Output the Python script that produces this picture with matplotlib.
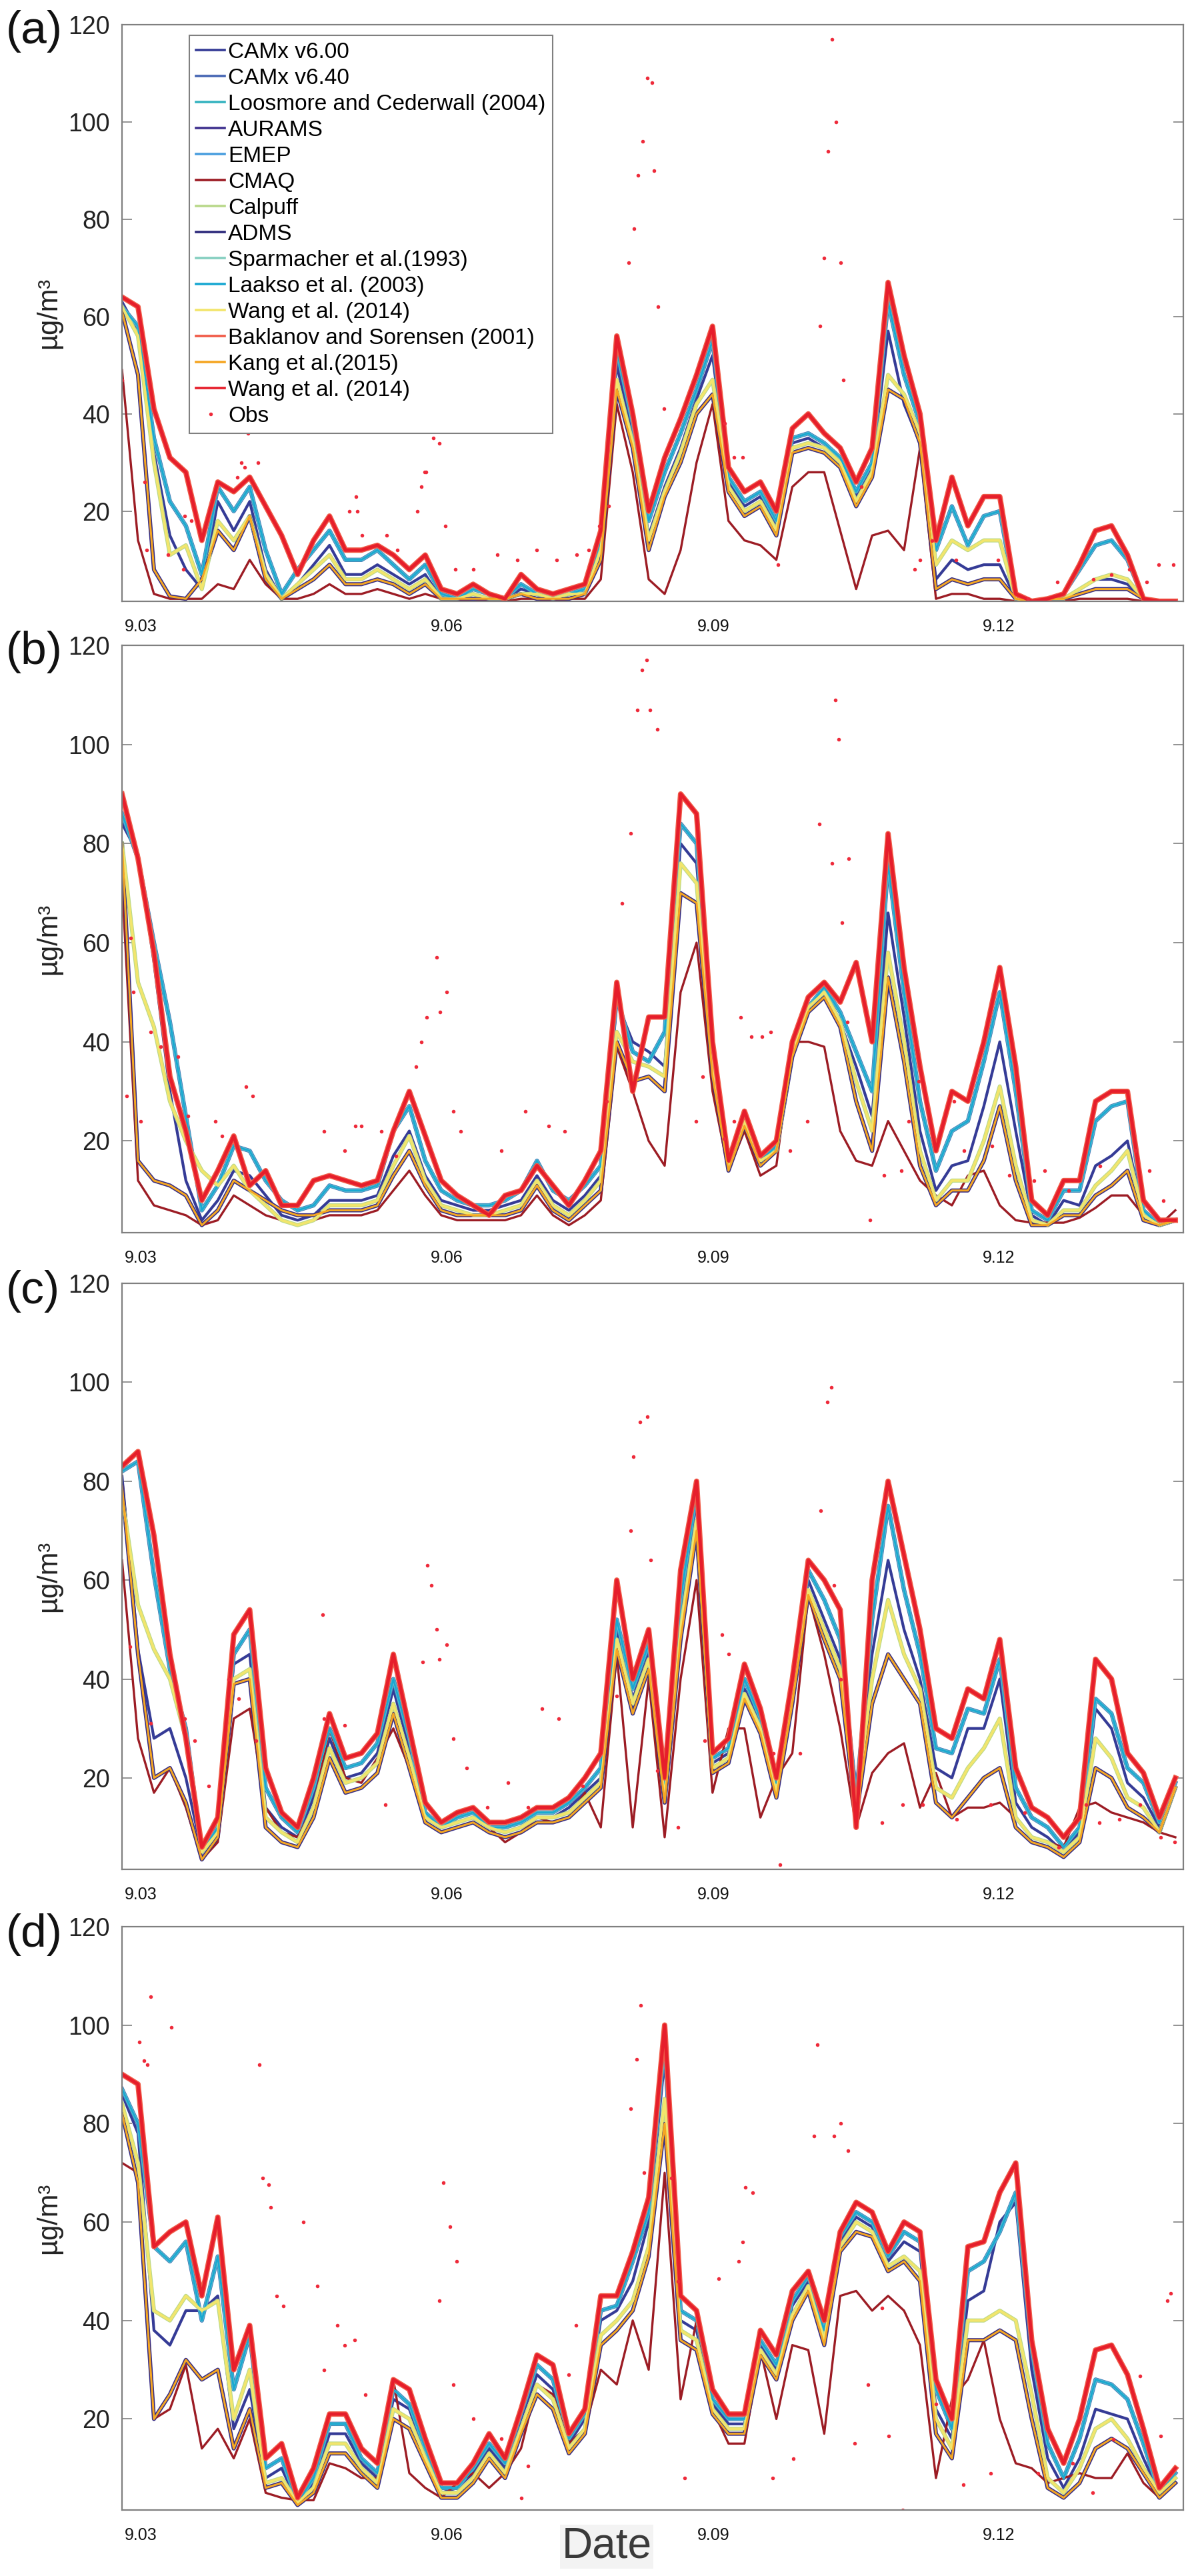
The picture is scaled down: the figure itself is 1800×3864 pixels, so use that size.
import matplotlib
matplotlib.use("Agg")
import matplotlib.pyplot as plt

plt.rcParams['font.family'] = ['Liberation Sans', 'DejaVu Sans']

# hourly index (every 4 h) from the start of 9.03
hours = list(range(0, 265, 4))

tick_pos = [4.7, 81.4, 148.2, 219.7]
tick_labels = ['9.03', '9.06', '9.09', '9.12']

model_names = ["CAMx v6.00", "CAMx v6.40", "Loosmore and Cederwall (2004)", "AURAMS", "EMEP",
               "CMAQ", "Calpuff", "ADMS", "Sparmacher et al.(1993)", "Laakso et al. (2003)",
               "Wang et al. (2014)", "Baklanov and Sorensen (2001)", "Kang et al.(2015)",
               "Wang et al. (2014)"]
# which read curve of a panel each model follows
model_curve = ['blue', 'cyan', 'cyan', 'low', 'cyan', 'cmaq', 'yellow', 'low', 'cyan', 'cyan',
               'yellow', 'top', 'low', 'top']

# ---------------- panel (a) ----------------
a_top = [64, 62, 41, 31, 28, 14, 26, 24, 27, 21, 15, 7, 14, 19, 12, 12, 13, 11, 8, 11, 4, 3, 5, 3, 2, 7, 4, 3, 4, 5,
         16, 56, 40, 20, 31, 39, 48, 58, 29, 24, 26, 20, 37, 40, 36, 33, 26, 33, 67, 52, 40, 14, 27, 17, 23, 23,
         3, 1.5, 2, 3, 9, 16, 17, 11, 2, 1.5, 1.5]
a_cyan = [62, 58, 35, 22, 17, 7, 25, 20, 25, 12, 3, 8, 12, 16, 10, 10, 12, 9, 6, 9, 3, 2, 4, 3, 2, 5, 3, 2, 3, 4,
          14, 53, 38, 18, 28, 36, 45, 55, 27, 22, 24, 18, 35, 36, 34, 31, 24, 30, 63, 48, 38, 12, 21, 13, 19, 20,
          2, 1.5, 2, 3, 8, 13, 14, 10, 2, 1.5, 1.5]
a_blue = [63, 57, 32, 15, 8, 4, 22, 16, 22, 8, 2, 5, 9, 13, 7, 7, 9, 7, 5, 7, 2, 2, 3, 2, 2, 4, 3, 2, 3, 4,
          13, 50, 36, 15, 25, 33, 43, 52, 26, 21, 23, 17, 34, 35, 33, 30, 23, 29, 57, 42, 34, 6, 10, 8, 9, 9,
          2, 1.5, 2, 2, 4, 6, 6, 5, 2, 1.5, 1.5]
a_yellow = [62, 56, 30, 11, 13, 4, 18, 14, 19, 7, 2, 5, 8, 11, 6, 6, 8, 6, 4, 6, 2, 2, 3, 2, 2, 3, 3, 2, 3, 3,
            12, 47, 34, 14, 24, 32, 42, 47, 25, 20, 22, 16, 33, 34, 33, 30, 22, 28, 48, 44, 36, 9, 14, 12, 14, 14,
            2, 1.5, 2, 2, 4, 6, 7, 6, 2, 1.5, 1.5]
a_low = [61, 48, 8, 2.5, 2, 6, 16, 12, 19, 6, 2, 4, 6, 9, 5, 5, 6, 5, 3, 5, 2, 2, 2, 2, 2, 3, 2, 2, 2, 3,
         10, 45, 33, 12, 23, 30, 40, 44, 24, 19, 21, 15, 32, 33, 32, 29, 21, 27, 45, 43, 34, 4, 6, 5, 6, 6,
         2, 1.5, 2, 2, 3, 4, 4, 4, 2, 1.5, 1.5]
a_cmaq = [49, 14, 3, 2, 2, 2, 5, 4, 10, 5, 2, 2, 3, 5, 3, 3, 4, 3, 2, 3, 2, 1.5, 2, 1.5, 1.5, 2, 2, 1.5, 2, 2,
          6, 42, 28, 6, 3, 12, 30, 42, 18, 14, 13, 10, 25, 28, 28, 16, 4, 15, 16, 12, 33, 2, 3, 3, 2, 2,
          1.5, 1.5, 1.5, 1.5, 2, 2, 2, 2, 1.5, 1.5, 1.5]
a_obs_h = [0, 5.6, 6.2, 11.6, 15.4, 15.7, 17.4, 28.9, 29.9, 30.8, 31.5, 34, 57, 58.6, 59, 60.2, 66.3, 69, 74, 75,
           75.9, 76.2, 78, 79.5, 81, 83.5, 88, 94, 99, 104, 109, 114, 117, 119.7, 122, 127, 128.4, 129.4, 130.5,
           131.7, 132.9, 133.4, 134.3, 135.8, 151, 153.3, 155.5, 164.4, 174.9, 175.9, 177, 177.9, 178.9, 180.1,
           180.8, 185.3, 198.7, 200, 203, 209, 219.6, 227, 234.5, 243.4, 248, 252.4, 256.8, 259.8, 263.5]
a_obs_v = [47, 26, 12, 11, 8, 19, 18, 27, 30, 29, 36, 30, 20, 23, 20, 15, 15, 12, 20, 25,
           28, 28, 35, 34, 17, 8, 8, 11, 10, 12, 10, 11, 12, 17, 21, 71, 78, 89, 96,
           109, 108, 90, 62, 41, 38, 31, 31, 9, 58, 72, 94, 117, 100, 71,
           47, 25, 8, 10, 14, 10, 10, 2, 5.5, 6, 7, 8, 5.5, 9, 9]

# ---------------- panel (b) ----------------
b_top = [90, 77, 58, 33, 22, 8, 14, 21, 11, 14, 7, 7, 12, 13, 12, 11, 12, 22, 30, 21, 12, 9, 7, 5, 9, 10, 15, 11,
         7, 12, 18, 52, 30, 45, 45, 90, 86, 40, 16, 26, 17, 20, 40, 49, 52, 48, 56, 40, 82, 55, 35, 18, 30, 28,
         40, 55, 35, 8, 5, 12, 12, 28, 30, 30, 8, 4, 4]
b_cyan = [86, 77, 60, 44, 25, 6, 11, 19, 18, 12, 8, 6, 7, 11, 10, 10, 11, 22, 27, 16, 10, 8, 7, 7, 8, 10, 16, 10,
          8, 11, 15, 49, 38, 36, 42, 84, 80, 38, 15, 25, 16, 19, 38, 47, 51, 46, 38, 30, 76, 50, 28, 14, 22, 24,
          36, 50, 30, 6, 4, 10, 10, 24, 27, 28, 6, 3, 4]
b_blue = [84, 78, 56, 30, 12, 4, 8, 14, 13, 9, 5, 4, 5, 8, 8, 8, 9, 17, 22, 13, 8, 7, 6, 6, 7, 8, 13, 8,
          6, 9, 13, 48, 40, 38, 35, 80, 76, 36, 15, 25, 16, 19, 38, 47, 50, 44, 35, 25, 66, 45, 22, 10, 15, 16,
          27, 40, 22, 5, 3, 8, 7, 15, 17, 20, 5, 3, 4]
b_yellow = [80, 52, 43, 28, 20, 14, 11, 15, 10, 7, 4, 3, 4, 7, 7, 7, 8, 15, 21, 12, 7, 6, 5, 5, 6, 7, 12, 7,
            5, 8, 12, 42, 36, 35, 33, 76, 72, 35, 15, 24, 16, 18, 38, 47, 50, 44, 32, 22, 58, 40, 18, 8, 12, 12,
            20, 31, 15, 4, 3, 6, 6, 11, 14, 18, 5, 3, 4]
b_low = [80, 16, 12, 11, 9, 3, 6, 12, 10, 8, 6, 5, 5, 6, 6, 6, 7, 13, 18, 11, 6, 5, 5, 5, 5, 6, 11, 6,
         4, 7, 10, 40, 32, 33, 30, 70, 68, 33, 14, 23, 15, 18, 37, 46, 49, 43, 28, 18, 53, 36, 15, 7, 10, 10,
         16, 27, 12, 3, 3, 5, 5, 9, 11, 14, 4, 3, 4]
b_cmaq = [72, 12, 7, 6, 5, 3, 4, 9, 7, 5, 4, 3, 4, 5, 5, 5, 6, 10, 14, 9, 5, 4, 4, 4, 4, 5, 9, 5,
          3, 5, 8, 39, 30, 20, 15, 50, 60, 30, 14, 22, 13, 15, 40, 40, 39, 22, 16, 15, 24, 18, 12, 9, 7, 13,
          14, 7, 4, 3.5, 3.5, 3.5, 4.5, 6.5, 9, 9, 5, 3, 6]
b_obs_h = [1.2, 2.1, 2.9, 4.6, 7.2, 9.7, 14, 16.6, 23.4, 25.1, 31, 32.8, 50.7, 55.8, 58.4, 60, 65, 68.6, 73.7, 75,
           76.3, 78.8, 79.7, 81.4, 83, 84.8, 95, 101, 107, 111, 121.5, 125.3, 127.5, 129.2, 130.4, 131.5, 132.4,
           134.2, 143.8, 145.5, 150.8, 153.4, 155.1, 157.8, 160.4, 162.6, 167.4, 171.8, 174.8, 177.9, 178.7,
           179.6, 180.5, 181.8, 182.2, 187.5, 191, 195.4, 197.1, 199.7, 208.5, 211, 218, 222.4, 228.6, 231.2,
           237.3, 245.2, 254, 257.4, 261]
b_obs_v = [29, 61, 50, 24, 42, 39, 37, 25, 24, 21, 31, 29, 22, 18, 23, 23, 22, 17, 35, 40,
           45, 57, 46, 50, 26, 22, 18, 26, 23, 22, 28, 68, 82, 107, 115, 117, 107,
           103, 24, 33, 20.5, 24, 45, 41, 41, 42, 18, 24, 84, 76, 109,
           101, 64, 44, 77, 4, 13, 14, 24, 32, 28, 18, 19, 13, 12, 14,
           10, 15, 18, 14, 8]

# ---------------- panel (c) ----------------
c_top = [83, 86, 69, 45, 28, 6, 12, 49, 54, 22, 13, 10, 20, 33, 24, 25, 29, 45, 30, 15, 11, 13, 14, 11, 11, 12,
         14, 14, 16, 20, 25, 60, 40, 50, 20, 62, 80, 25, 28, 43, 34, 20, 40, 64, 60, 54, 10, 60, 80, 65, 50, 30,
         28, 38, 36, 48, 22, 14, 12, 8, 12, 44, 40, 25, 21, 12, 20]
c_cyan = [82, 84, 61, 42, 30, 5, 10, 45, 50, 18, 12, 9, 18, 30, 22, 23, 27, 40, 28, 13, 10, 12, 13, 10, 10, 11,
          13, 13, 15, 18, 22, 52, 38, 47, 18, 56, 78, 24, 26, 40, 32, 19, 38, 62, 56, 48, 16, 52, 75, 58, 45, 26,
          25, 34, 33, 44, 18, 12, 10, 6, 10, 36, 33, 22, 19, 11, 19]
c_blue = [81, 46, 28, 30, 20, 5, 9, 43, 45, 14, 10, 8, 16, 28, 20, 21, 25, 38, 26, 12, 10, 11, 12, 10, 9, 10,
          12, 12, 14, 17, 20, 50, 36, 45, 17, 54, 76, 23, 25, 38, 31, 18, 37, 60, 52, 44, 18, 45, 64, 50, 40, 22,
          20, 30, 30, 40, 15, 10, 8, 5, 9, 34, 30, 19, 16, 10, 18]
c_yellow = [77, 55, 46, 40, 28, 5, 9, 40, 42, 12, 9, 7, 14, 26, 19, 20, 23, 35, 24, 12, 10, 11, 12, 10, 9, 10,
            12, 12, 13, 16, 19, 48, 35, 44, 16, 50, 72, 22, 24, 37, 30, 17, 36, 58, 50, 42, 14, 40, 56, 45, 38, 18,
            16, 22, 26, 32, 12, 8, 7, 5, 8, 28, 24, 16, 14, 9, 18]
c_low = [79, 45, 20, 22, 15, 3.5, 8, 39, 40, 10, 7, 6, 12, 24, 17, 18, 21, 33, 22, 11, 9, 10, 11, 9, 8, 9,
         11, 11, 12, 15, 18, 46, 33, 42, 15, 48, 70, 21, 23, 36, 29, 16, 35, 57, 48, 40, 12, 35, 45, 40, 35, 15,
         12, 16, 20, 22, 10, 7, 6, 4, 7, 22, 20, 14, 12, 9, 18]
c_cmaq = [64, 28, 17, 22, 14, 3.5, 7, 32, 34, 14, 9, 8, 14, 30, 20, 19, 24, 30, 22, 13, 10, 11, 12, 10, 7, 9,
          12, 11, 12, 17, 10, 45, 10, 40, 8, 40, 60, 17, 30, 30, 12, 20, 25, 57, 45, 30, 10, 21, 25, 27, 14, 21,
          12, 14, 14, 15, 12, 8, 7, 6, 14, 15, 13, 12, 11, 9, 8]
c_obs_h = [2, 7.2, 15.7, 18.2, 21.7, 26.8, 29.3, 33.6, 50.3, 50.6, 55.8, 66, 75.4, 76.6, 77.6, 78.8, 79.6, 81.3,
           83, 86.4, 91.6, 96.7, 101.8, 105.2, 109.5, 115.4, 124, 127.4, 128.2, 129.9, 131.6, 132.5, 134.2, 139.3,
           146.1, 150.4, 152.1, 163.2, 164.9, 170, 175.1, 176.8, 177.7, 178.5, 180.2, 190.4, 195.6, 200.7, 209.2,
           217.7, 226.3, 234.8, 241.6, 245, 250, 255.2, 260.4, 263.8]
c_obs_v = [46.5, 31, 32, 27.5, 18.4, 40, 36, 27.5, 53, 32, 30.6, 14.6, 43.5, 63, 59, 50, 44, 47,
           28, 22, 14, 19, 14, 34, 32, 18.4, 36.6, 70, 85, 92, 93, 64, 21.5, 10,
           27.5, 49, 45, 25, 2.5, 25, 74, 96, 99, 59, 40, 11, 14.6, 14.6, 11.6,
           14.6, 13, 6, 14.6, 11, 11.6, 14.6, 8, 7]

# ---------------- panel (d) ----------------
d_top = [90, 88, 55, 58, 60, 45, 61, 30, 39, 12, 15, 4, 10, 21, 21, 14, 11, 28, 26, 16, 7, 7, 11, 17, 12, 22,
         33, 31, 17, 22, 45, 45, 54, 65, 100, 45, 42, 26, 21, 21, 38, 33, 46, 50, 40, 58, 64, 62, 54, 60, 58, 28,
         20, 55, 56, 66, 72, 36, 18, 11, 20, 34, 35, 29, 18, 6, 10]
d_cyan = [87, 80, 55, 52, 56, 40, 53, 26, 37, 10, 12, 3, 8, 19, 19, 12, 9, 26, 23, 14, 6, 6, 10, 15, 11, 21,
          31, 28, 16, 21, 42, 43, 52, 62, 96, 42, 40, 24, 20, 20, 36, 31, 44, 49, 38, 57, 62, 60, 53, 58, 56, 26,
          18, 50, 52, 58, 66, 34, 15, 8, 16, 28, 27, 24, 15, 5, 9]
d_blue = [86, 78, 38, 35, 42, 42, 45, 18, 26, 8, 10, 3, 7, 17, 17, 11, 8, 24, 22, 13, 5, 6, 9, 14, 10, 20,
          29, 26, 15, 20, 40, 42, 48, 60, 93, 40, 38, 23, 19, 19, 35, 30, 43, 48, 37, 56, 61, 59, 52, 56, 54, 22,
          16, 44, 46, 60, 64, 30, 12, 6, 12, 22, 21, 20, 12, 5, 9]
d_yellow = [84, 72, 42, 40, 45, 42, 44, 20, 30, 7, 8, 3, 6, 15, 15, 10, 7, 22, 20, 12, 5, 5, 8, 13, 9, 18,
            27, 24, 14, 18, 37, 40, 44, 55, 85, 38, 36, 22, 18, 18, 34, 29, 41, 47, 36, 55, 60, 58, 51, 53, 50, 20,
            14, 40, 40, 42, 40, 25, 8, 5, 10, 18, 20, 16, 10, 5, 8]
d_low = [82, 68, 20, 25, 32, 28, 30, 14, 22, 6, 7, 2.5, 5, 13, 13, 9, 6, 20, 18, 11, 4, 4, 7, 12, 8, 17,
         25, 22, 13, 17, 35, 38, 42, 53, 80, 36, 34, 21, 17, 17, 33, 28, 40, 46, 35, 54, 58, 57, 50, 52, 48, 17,
         12, 36, 36, 38, 36, 20, 6, 4, 7, 14, 16, 14, 9, 4, 7]
d_cmaq = [72, 70, 20, 22, 31, 14, 18, 12, 20, 5, 4, 3.5, 3.5, 11, 10, 8, 8, 28, 9, 6, 4, 7, 9, 6, 9, 14,
          27, 25, 15, 18, 30, 27, 40, 30, 70, 24, 40, 22, 15, 15, 34, 20, 35, 34, 17, 45, 46, 42, 45, 42, 35, 8,
          24, 28, 36, 20, 11, 10, 7, 8, 9, 8, 8, 13, 7, 4, 9]
d_obs_h = [4.3, 5.5, 6.3, 7.2, 12.3, 34.4, 35.3, 36.7, 37.3, 38.7, 40.4, 45.5, 48.9, 50.6, 54, 55.8, 58.3, 60.9,
           79.6, 80.5, 82.2, 83, 83.9, 88.1, 95, 100, 101.8, 112, 113.7, 127.4, 129, 130, 130.8, 137.6, 139.3,
           141, 149.5, 154.6, 155.5, 156.3, 158, 163, 168.3, 173.4, 174.3, 178.5, 180.2, 182, 183.6, 187, 190.4,
           192.1, 195.6, 204, 210.8, 217.7, 229.6, 238.2, 243.3, 248.4, 255.2, 260.4, 262, 262.9]
d_obs_v = [96.6, 92.8, 92, 105.7, 99.6, 92, 69, 67.6, 63, 45, 43, 60, 47, 30, 39, 35, 36, 25,
           44, 68, 59, 27, 52, 20, 16, 4, 10.4, 29, 39, 83, 93, 104, 70, 69, 48,
           8, 48.5, 52, 56, 67, 66, 8, 12, 77.5, 96, 77.5, 80, 74.5, 15, 27, 42.5,
           16.5, 1.5, 23, 6.6, 9, 9, 11, 5, 15.8, 28.7, 16.5, 44, 45.5]

panels = [
    ('(a)', {'top': a_top, 'cyan': a_cyan, 'blue': a_blue, 'yellow': a_yellow, 'low': a_low, 'cmaq': a_cmaq},
     a_obs_h, a_obs_v),
    ('(b)', {'top': b_top, 'cyan': b_cyan, 'blue': b_blue, 'yellow': b_yellow, 'low': b_low, 'cmaq': b_cmaq},
     b_obs_h, b_obs_v),
    ('(c)', {'top': c_top, 'cyan': c_cyan, 'blue': c_blue, 'yellow': c_yellow, 'low': c_low, 'cmaq': c_cmaq},
     c_obs_h, c_obs_v),
    ('(d)', {'top': d_top, 'cyan': d_cyan, 'blue': d_blue, 'yellow': d_yellow, 'low': d_low, 'cmaq': d_cmaq},
     d_obs_h, d_obs_v),
]

# styles
model_colors = ['#353b96', '#4767b3', '#36b3c0', '#40318f', '#4a9ede', '#9c1c24', '#b9d88a', '#2e2b7c',
                '#85cfc0', '#19a8d2', '#f2e56c', '#f05b48', '#f5a623', '#e61e2b']
model_lw = [3.0, 4.6, 3.8, 4.4, 3.2, 2.4, 4.4, 3.4, 2.6, 2.1, 2.8, 5.8, 2.2, 3.6]
obs_color = '#ee2a3a'
axis_gray = '#808080'

fig = plt.figure(figsize=(18, 38.64), dpi=100)

ax_rects = [[0.1017, 0.7666, 0.8844, 0.2239],
            [0.1017, 0.5215, 0.8844, 0.2280],
            [0.1017, 0.2743, 0.8844, 0.2275],
            [0.1017, 0.0256, 0.8844, 0.2265]]
label_y = [0.9878, 0.7469, 0.4987, 0.2490]

for i, (tag, curves, obs_h, obs_v) in enumerate(panels):
    ax = fig.add_axes(ax_rects[i])
    for name, key, col, lw in zip(model_names, model_curve, model_colors, model_lw):
        ax.plot(hours, curves[key], color=col, lw=lw, label=name, solid_joinstyle='round')
    ax.plot(obs_h, obs_v, linestyle='none', marker='o', markersize=4, mew=0, color=obs_color, label='Obs')

    ax.set_xlim(0, 266)
    ax.set_ylim(1.5, 120)
    ax.set_yticks([20, 40, 60, 80, 100, 120])
    ax.set_xticks(tick_pos)
    ax.set_xticklabels(tick_labels)
    ax.tick_params(axis='y', which='both', direction='in', length=11, width=1.2, color=axis_gray,
                   left=True, right=True, labelsize=27, labelcolor='#222222', pad=13)
    ax.tick_params(axis='x', length=0, labelsize=18, labelcolor='#111111', pad=19)
    for s in ax.spines.values():
        s.set_color(axis_gray)
        s.set_linewidth(1.6)
    ax.set_ylabel('µg/m³', fontsize=30, color='#222222')
    ax.yaxis.set_label_coords(-0.0565, 0.5)

    fig.text(0.005, label_y[i], tag, fontsize=50, ha='left', va='center', color='#111111')

    if i == 0:
        leg = ax.legend(loc='upper left', bbox_to_anchor=(0.0634, 0.981), borderaxespad=0,
                        fontsize=24, labelspacing=0.24, handlelength=1.3, handletextpad=0.15,
                        borderpad=0.3, numpoints=1, fancybox=False, framealpha=1, edgecolor=axis_gray)
        leg.get_frame().set_linewidth(1.5)
        for ln in leg.get_lines():
            if ln.get_linestyle() != 'None':
                ln.set_linewidth(2.6)

fig.text(0.5056, 0.0114, 'Date', fontsize=46, ha='center', va='center', color='#3a3a3a',
         bbox=dict(facecolor='#f3f3f3', edgecolor='none', pad=2))

fig.savefig('out.png', dpi=100, facecolor='white')
